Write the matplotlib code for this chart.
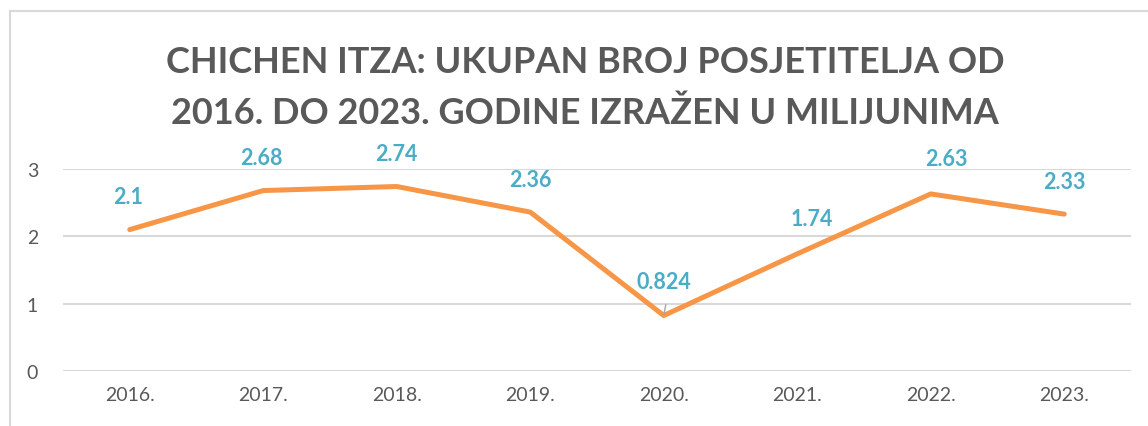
import matplotlib.pyplot as plt
from matplotlib.patches import Rectangle

# data (millions of visitors)
years = ['2016.', '2017.', '2018.', '2019.', '2020.', '2021.', '2022.', '2023.']
visitors = [2.1, 2.68, 2.74, 2.36, 0.824, 1.74, 2.63, 2.33]
labels = ['2.1', '2.68', '2.74', '2.36', '0.824', '1.74', '2.63', '2.33']

# label nudges in pixels (dx, dy up)
nudge = [(-2, 33), (-2, 33), (0, 33), (0, 33), (0, 34), (15, 35), (16, 35), (0, 33)]

plt.rcParams['font.family'] = ['Lato', 'DejaVu Sans']

W, H = 1148, 427
fig = plt.figure(figsize=(W / 100, H / 100), dpi=100)
fig.patch.set_facecolor('white')

# chart frame
fig.patches.append(Rectangle((10 / W, -0.1), 1.2, (H - 12) / H + 0.1, transform=fig.transFigure,
                             fill=False, edgecolor='#D9D9D9', linewidth=1.5))

ax = fig.add_axes([63 / W, 55 / H, (1131 - 63) / W, (372 - 170) / H])
x = list(range(len(years)))
ax.set_xlim(-0.5, len(years) - 0.5)
ax.set_ylim(0, 3)
ax.set_yticks([0, 1, 2, 3])
ax.grid(axis='y', color='#D9D9D9', linewidth=1.5)
ax.set_axisbelow(True)
for s in ax.spines.values():
    s.set_visible(False)
ax.tick_params(length=0, labelsize=14, labelcolor='#595959')
ax.tick_params(axis='y', pad=18)
ax.tick_params(axis='x', pad=11)
ax.set_xticks(x)
ax.set_xticklabels(years)

ax.plot(x, visitors, color='#F79646', linewidth=3.6, solid_capstyle='round', solid_joinstyle='round')

for i, (v, t) in enumerate(zip(visitors, labels)):
    dx, dy = nudge[i]
    if t == '0.824':
        ax.annotate('', xy=(i, v), xytext=(dx * 0.72 + 1.5, 8),
                    textcoords='offset points',
                    arrowprops=dict(arrowstyle='-', color='#A6A6A6', lw=1, shrinkA=0, shrinkB=1))
    ax.annotate(t, xy=(i, v), xytext=(dx * 0.72, dy * 0.72), textcoords='offset points',
                ha='center', va='center', fontsize=15.5, fontweight='bold', color='#4BACC6')

fig.text(585 / W, 1 - 88 / H, 'CHICHEN ITZA: UKUPAN BROJ POSJETITELJA OD\n2016. DO 2023. GODINE IZRAŽEN U MILIJUNIMA',
         ha='center', va='center', fontsize=26, fontweight='bold', color='#595959', linespacing=1.62)

fig.savefig('out.png', dpi=100)
